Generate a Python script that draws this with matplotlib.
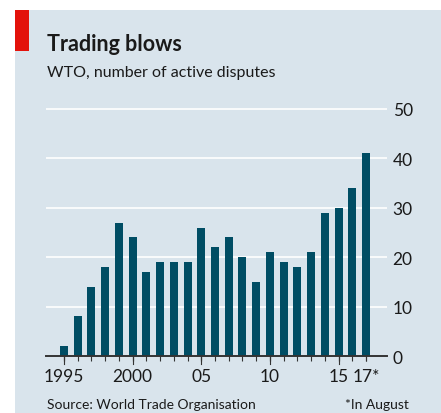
import matplotlib
matplotlib.use('Agg')
import matplotlib.pyplot as plt
from matplotlib.patches import Rectangle

# data
years = list(range(1995, 2018))
disputes = [2, 8, 14, 18, 27, 24, 17, 19, 19, 19, 26, 22, 24, 20, 15, 21, 19, 18, 21, 29, 30, 34, 41]
label_years = [1995, 2000, 2005, 2010, 2015, 2017]
label_text = ['1995', '2000', '05', '10', '15', '17*']
long_tick_years = [1995, 2000, 2005, 2010, 2015]
y_ticks = [0, 10, 20, 30, 40, 50]

bg = '#d9e4ec'
bar_col = '#004d64'
red = '#e3120b'
txt = '#1a1a1a'

plt.rcParams['font.family'] = ['Lato', 'DejaVu Sans']

W, H = 441, 414
fig = plt.figure(figsize=(W / 100, H / 100), dpi=100, facecolor='white')

# background panel and red tag
fig.patches.append(Rectangle((15 / W, 0), 1 - 15 / W, 1 - 11 / H, transform=fig.transFigure,
                             facecolor=bg, edgecolor='none', zorder=-2))
fig.patches.append(Rectangle((15 / W, 1 - 52 / H), 14 / W, 41 / H, transform=fig.transFigure,
                             facecolor=red, edgecolor='none', zorder=-1))

ax = fig.add_axes([46 / W, 1 - 357 / H, (387 - 46) / W, (357 - 108) / H])
ax.set_facecolor('none')

ax.bar(years, disputes, width=0.58, color=bar_col, zorder=3)

ax.set_xlim(1993.69, 2018.53)
ax.set_ylim(0, 50.4)

ax.set_yticks(y_ticks)
ax.yaxis.tick_right()
ax.tick_params(axis='y', length=0, pad=4, labelsize=12.5, labelcolor=txt)
ax.grid(axis='y', color='white', linewidth=1.2, zorder=1)
ax.set_axisbelow(True)

ax.set_xticks(label_years)
ax.set_xticklabels(label_text)
ax.set_xticks(years, minor=True)
ax.xaxis.remove_overlapping_locs = False
ax.tick_params(axis='x', which='minor', length=3.4, width=0.8, color='#333333')
ax.tick_params(axis='x', which='major', length=3.4, width=0.8, color='#333333',
               labelsize=12.5, labelcolor=txt, pad=5)
# long ticks on every fifth year
for yr in long_tick_years:
    ax.plot([yr, yr], [0, -1.6], color='#333333', linewidth=0.8, clip_on=False, zorder=4)

for s in ['top', 'left', 'right']:
    ax.spines[s].set_visible(False)
ax.spines['bottom'].set_color('#333333')
ax.spines['bottom'].set_linewidth(1.4)
ax.spines['bottom'].set_zorder(5)

fig.text(47 / W, 1 - 51 / H, 'Trading blows', fontsize=15.5, fontweight='bold', color=txt,
         va='baseline', ha='left')
fig.text(47 / W, 1 - 77 / H, 'WTO, number of active disputes', fontsize=11.5, color=txt,
         va='baseline', ha='left')
fig.text(47 / W, 1 - 409 / H, 'Source: World Trade Organisation', fontsize=10, color=txt,
         va='baseline', ha='left')
fig.text(409 / W, 1 - 409 / H, '*In August', fontsize=10, color=txt,
         va='baseline', ha='right')

plt.savefig('out.png', dpi=100, facecolor='white')
plt.close()
